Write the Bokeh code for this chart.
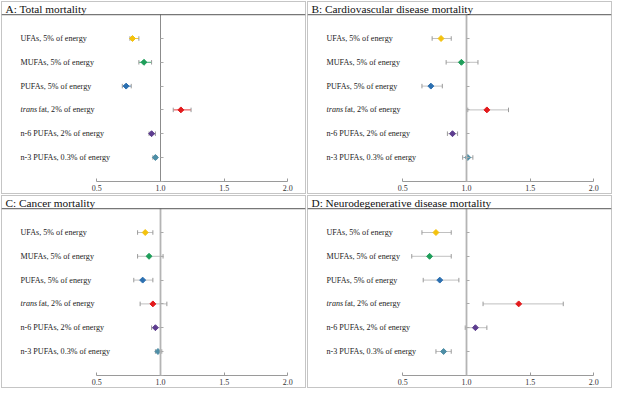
import math
from bokeh.plotting import figure
from bokeh.models import (Range1d, LinearAxis, FixedTicker, Label, LabelSet,
                          ColumnDataSource, Span)
from bokeh.layouts import gridplot
from bokeh.core.properties import value
from bokeh.embed import file_html
from bokeh.resources import INLINE

# ---------------- data ----------------
categories = ["UFAs, 5% of energy", "MUFAs, 5% of energy", "PUFAs, 5% of energy",
              "trans fat, 2% of energy", "n-6 PUFAs, 2% of energy",
              "n-3 PUFAs, 0.3% of energy"]

tick_values = [0.5, 1.0, 1.5, 2.0]
tick_labels = ["0.5", "1.0", "1.5", "2.0"]

panel_titles = ["A: Total mortality", "B: Cardiovascular disease mortality",
                "C: Cancer mortality", "D: Neurodegenerative disease mortality"]

total_hr = [0.78, 0.87, 0.73, 1.16, 0.93, 0.96]
total_lo = [0.76, 0.83, 0.70, 1.10, 0.91, 0.94]
total_hi = [0.83, 0.93, 0.77, 1.24, 0.96, 0.97]

cvd_hr = [0.80, 0.96, 0.72, 1.16, 0.89, 1.01]
cvd_lo = [0.73, 0.84, 0.65, 1.01, 0.85, 0.97]
cvd_hi = [0.88, 1.09, 0.81, 1.33, 0.93, 1.05]

cancer_hr = [0.88, 0.91, 0.86, 0.94, 0.96, 0.98]
cancer_lo = [0.82, 0.82, 0.79, 0.84, 0.93, 0.96]
cancer_hi = [0.94, 1.02, 0.94, 1.05, 1.00, 1.01]

neuro_hr = [0.76, 0.71, 0.79, 1.41, 1.07, 0.82]
neuro_lo = [0.65, 0.57, 0.66, 1.13, 0.99, 0.76]
neuro_hi = [0.88, 0.88, 0.94, 1.76, 1.16, 0.88]

colors = ["#F4C20D", "#1E9E5A", "#2B6FB0", "#E31A1C", "#5D3D8F", "#4E8EA6"]

# ---------------- styling ----------------
W, H = 306, 194
SERIF = "Liberation Serif"
GRAY_BAR = "#b5b5b5"
GRAY_CAP = "#9a9a9a"


def make_panel(title, hr, lo, hi, colored_bars, ref_color, ref_width):
    rows = list(range(1, len(categories) + 1))
    p = figure(width=W, height=H, output_backend="svg", toolbar_location=None,
               x_range=Range1d(-0.249, 2.139), y_range=Range1d(7.513, -0.555),
               x_axis_location=None, y_axis_location=None, min_border=1)
    p.grid.grid_line_color = None
    p.outline_line_color = "#8a8a8a"
    p.outline_line_dash = "1 1"
    p.outline_line_width = 1
    p.background_fill_color = "white"
    p.border_fill_color = "white"

    # title band separator
    p.add_layout(Span(location=0, dimension="width", line_color="#555555",
                      line_width=1))
    p.add_layout(Label(x=4, y=185, x_units="screen", y_units="screen", text=title,
                       text_font=SERIF, text_font_size="11.3px",
                       text_color="#111111", text_baseline="middle"))

    # reference line at 1.0 with ticks to the right
    yax = LinearAxis(fixed_location=1.0, ticker=FixedTicker(ticks=rows + [7]),
                     bounds=(0, 7), major_tick_in=3, major_tick_out=0,
                     minor_tick_line_color=None, major_label_text_color=None,
                     axis_line_color=ref_color, axis_line_width=ref_width,
                     major_tick_line_color="#aaaaaa")
    p.add_layout(yax, "left")

    # x axis
    xax = LinearAxis(fixed_location=7, ticker=FixedTicker(ticks=tick_values),
                     bounds=(tick_values[0], tick_values[-1]),
                     major_label_overrides={v: l for v, l in zip(tick_values, tick_labels)},
                     major_tick_in=3, major_tick_out=0, minor_tick_line_color=None,
                     axis_line_color="#9a9a9a", major_tick_line_color="#9a9a9a",
                     major_label_text_font=SERIF, major_label_text_font_size="8px",
                     major_label_standoff=4, major_label_text_color="#333333")
    p.add_layout(xax, "below")

    bar_colors = colors if colored_bars else [GRAY_BAR] * len(rows)
    src = ColumnDataSource(dict(row=rows, hr=hr, lo=lo, hi=hi, color=colors,
                                bar=bar_colors))
    p.segment(x0="lo", y0="row", x1="hi", y1="row", line_color="bar",
              line_width=1, line_alpha=0.85, source=src)
    for end in ("lo", "hi"):
        p.scatter(x=end, y="row", marker="dash", angle=math.pi / 2, size=4.5,
                  line_color=GRAY_CAP, line_width=1, source=src)
    p.scatter(x="hr", y="row", marker="square", angle=math.pi / 4, size=4.2,
              fill_color="color", line_color="color", source=src)

    # category labels
    plain_rows, plain_text = [], []
    for r, c in zip(rows, categories):
        if c.startswith("trans "):
            p.add_layout(Label(x=19, y=r, x_units="screen", text="trans",
                               text_font=SERIF, text_font_size="8.1px",
                               text_font_style="italic", text_color="#222222",
                               text_baseline="middle"))
            p.add_layout(Label(x=37, y=r, x_units="screen", text=c[len("trans "):],
                               text_font=SERIF, text_font_size="8.1px",
                               text_color="#222222", text_baseline="middle"))
        else:
            plain_rows.append(r)
            plain_text.append(c)
    lsrc = ColumnDataSource(dict(row=plain_rows, text=plain_text))
    p.add_layout(LabelSet(x=19, y="row", x_units="screen", text="text", source=lsrc,
                          text_font=value(SERIF), text_font_size=value("8.1px"),
                          text_color="#222222", text_baseline="middle"))
    return p


pa = make_panel(panel_titles[0], total_hr, total_lo, total_hi, True, "#8c8c8c", 1)
pb = make_panel(panel_titles[1], cvd_hr, cvd_lo, cvd_hi, False, "#b4b4b4", 1.8)
pc = make_panel(panel_titles[2], cancer_hr, cancer_lo, cancer_hi, False, "#b4b4b4", 1.8)
pd = make_panel(panel_titles[3], neuro_hr, neuro_lo, neuro_hi, False, "#b4b4b4", 1.8)

grid = gridplot([[pa, pb], [pc, pd]], toolbar_location=None)

open("out.html", "w").write(file_html(grid, INLINE))
